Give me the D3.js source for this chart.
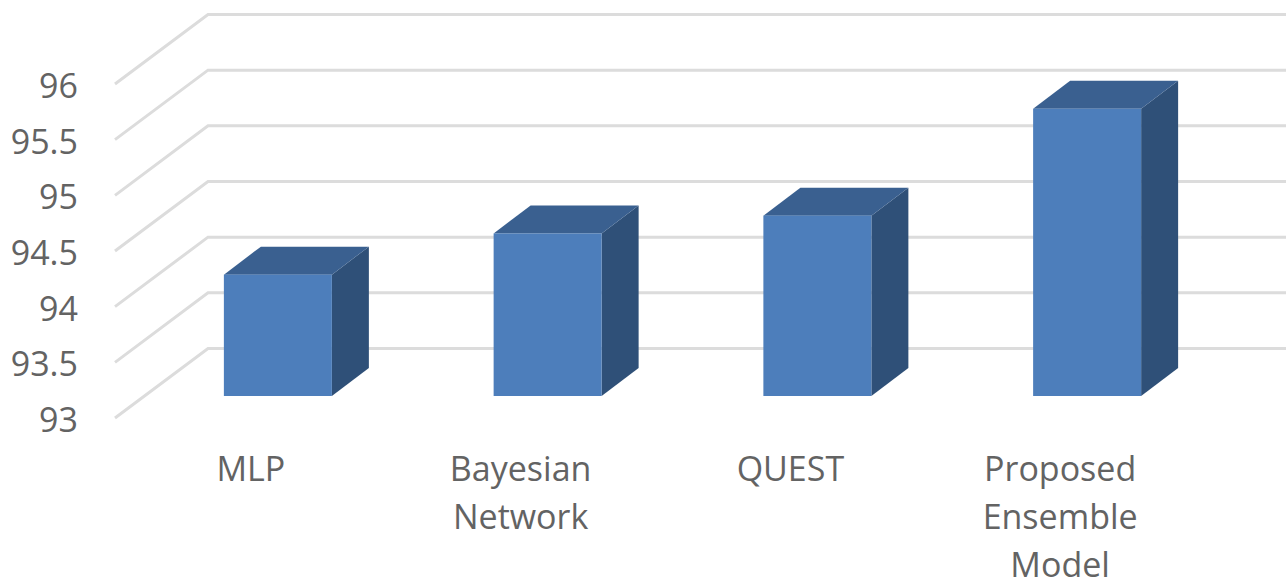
<!DOCTYPE html>
<html><head><meta charset="utf-8"><script src="https://cdn.jsdelivr.net/npm/d3@7"></script>
<style>html,body{margin:0;background:#fff}svg{display:block}text{font-family:"Open Sans",sans-serif;fill:#636363;font-size:34px}</style></head><body>
<svg id="c" width="1286" height="581"></svg>
<script>
const categories=[["MLP"],["Bayesian","Network"],["QUEST"],["Proposed","Ensemble","Model"]];
const values=[94.09,94.46,94.62,95.58];
const ticks=[93,93.5,94,94.5,95,95.5,96];
const svg=d3.select("#c");
const y=d3.scaleLinear().domain([93,96]).range([418,84]);
const yFront=d3.scaleLinear().domain([93,96]).range([396,62]);
const x=d3.scaleBand().domain(d3.range(4)).range([143,1222]);
const gridDx=93,gridDy=-69.5;
ticks.forEach(t=>{const Y=y(t);
 svg.append("path").attr("d",`M115,${Y}L${115+gridDx},${Y+gridDy}L1286,${Y+gridDy}`).attr("fill","none").attr("stroke","#dcdcdc").attr("stroke-width",3);
 svg.append("text").attr("x",78).attr("y",Y+14).attr("text-anchor","end").text(d3.format("~g")(t));
});
const bw=108,ddx=37,ddy=-28;
values.forEach((v,i)=>{
 const cx=x(i)+x.bandwidth()/2, l=cx-bw/2, r=l+bw, top=yFront(v), b=yFront(93);
 svg.append("path").attr("fill","#2f5078").attr("d",`M${r},${top}L${r+ddx},${top+ddy}L${r+ddx},${b+ddy}L${r},${b}Z`);
 svg.append("path").attr("fill","#3a6090").attr("d",`M${l},${top}L${l+ddx},${top+ddy}L${r+ddx},${top+ddy}L${r},${top}Z`);
 svg.append("rect").attr("x",l).attr("y",top).attr("width",bw).attr("height",b-top).attr("fill","#4d7ebb");
 categories[i].forEach((s,j)=>svg.append("text").attr("x",cx-27).attr("y",481+j*48).attr("text-anchor","middle").text(s));
});
</script></body></html>
